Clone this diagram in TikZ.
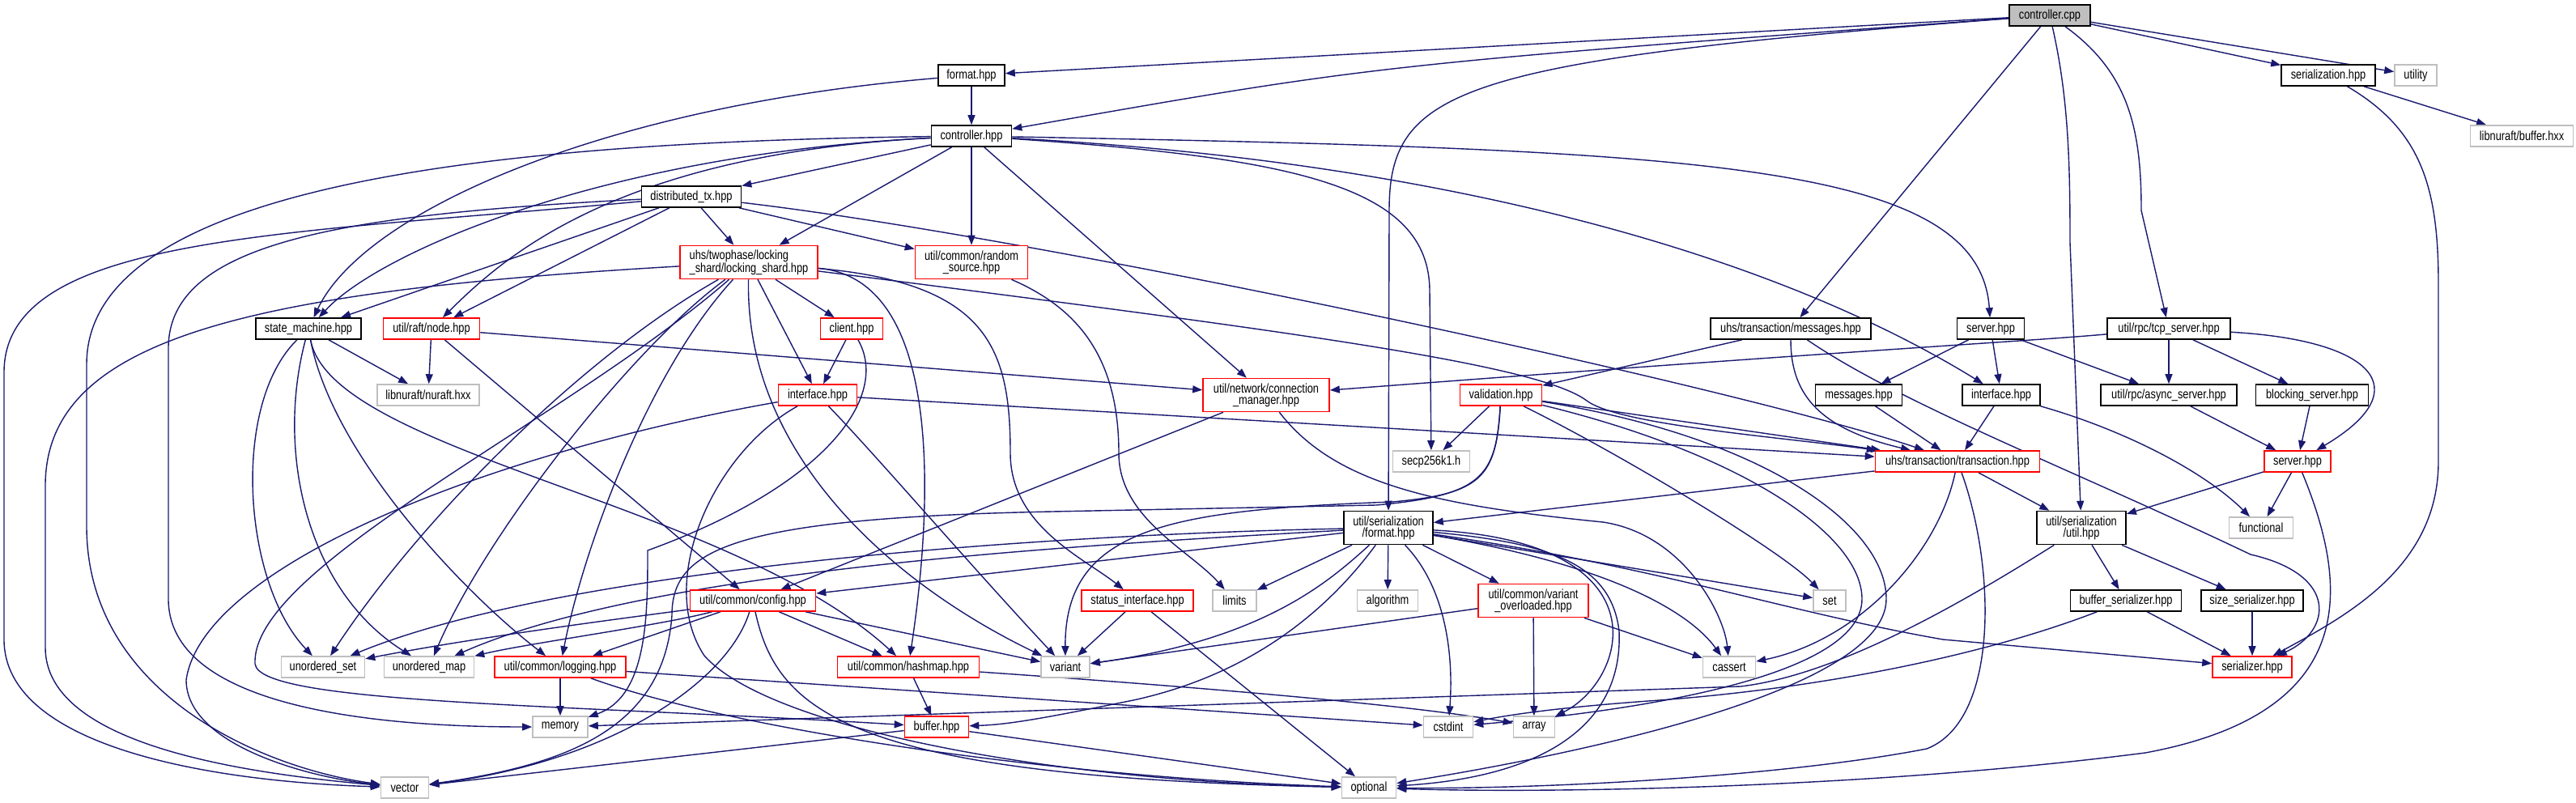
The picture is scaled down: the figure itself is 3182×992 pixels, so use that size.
\documentclass[tikz,border=0pt]{standalone}
\usepackage{fontspec}
\newfontfamily\dxf[FakeStretch=0.8]{Liberation Sans}
\usetikzlibrary{arrows.meta,backgrounds}
\definecolor{mb}{RGB}{25,25,112}
\definecolor{gb}{RGB}{191,191,191}
\definecolor{rb}{RGB}{255,0,0}
\tikzset{
  nd/.style={draw, fill=white, line width=1.6pt, minimum height=26pt, inner sep=0pt,
    font=\dxf\fontsize{16}{14}\selectfont, align=center, text=black},
  nb/.style={nd, draw=black},
  nr/.style={nd, draw=rb},
  ng/.style={nd, draw=gb},
  rootnode/.style={nd, draw=black, fill=gb},
  e/.style={draw=mb, line width=1.4pt, -{Triangle[length=12pt,width=9pt]}}
}
\begin{document}
\begin{tikzpicture}[x=1pt,y=-1pt]
\useasboundingbox (0,0) rectangle (3182,992);
% ---------- nodes ----------
\node[rootnode, minimum width=100] (cpp) at (2532,19) {controller.cpp};
\node[nb, minimum width=82] (fmt) at (1200,93) {format.hpp};
\node[nb, minimum width=116] (ser) at (2876,93) {serialization.hpp};
\node[ng, minimum width=52] (uty) at (2984,93) {utility};
\node[nb, minimum width=99] (chpp) at (1200,168) {controller.hpp};
\node[ng, minimum width=127] (lbuf) at (3115,168) {libnuraft/buffer.hxx};
\node[nb, minimum width=123] (dtx) at (854,243) {distributed\_tx.hpp};
\node[nr, minimum width=170, minimum height=41, align=left] (lsh) at (925,324) {uhs/twophase/locking\\\_shard/locking\_shard.hpp};
\node[nr, minimum width=139, minimum height=41] (rnd) at (1200,324) {util/common/random\\\_source.hpp};
\node[nb, minimum width=130] (sm) at (381,406) {state\_machine.hpp};
\node[nr, minimum width=119] (rnode) at (533,406) {util/raft/node.hpp};
\node[nr, minimum width=77] (cli) at (1052,406) {client.hpp};
\node[nb, minimum width=198] (umsg) at (2212,406) {uhs/transaction/messages.hpp};
\node[nb, minimum width=83] (srvb) at (2459,406) {server.hpp};
\node[nb, minimum width=152] (tcp) at (2679,406) {util/rpc/tcp\_server.hpp};
\node[ng, minimum width=126] (nuraft) at (529,488) {libnuraft/nuraft.hxx};
\node[nr, minimum width=97] (ifl) at (1010,488) {interface.hpp};
\node[nr, minimum width=156, minimum height=41] (conn) at (1564,488) {util/network/connection\\\_manager.hpp};
\node[nr, minimum width=101] (val) at (1854,488) {validation.hpp};
\node[nb, minimum width=107] (msgs) at (2296,488) {messages.hpp};
\node[nb, minimum width=96] (ifr) at (2472,488) {interface.hpp};
\node[nb, minimum width=168] (async) at (2679,488) {util/rpc/async\_server.hpp};
\node[nb, minimum width=139] (block) at (2856,488) {blocking\_server.hpp};
\node[ng, minimum width=95] (secp) at (1768,570) {secp256k1.h};
\node[nr, minimum width=203] (tx) at (2418,570) {uhs/transaction/transaction.hpp};
\node[nr, minimum width=82] (srvr) at (2838,570) {server.hpp};
\node[nb, minimum width=110, minimum height=41] (sfmt) at (1715,652) {util/serialization\\/format.hpp};
\node[nb, minimum width=110, minimum height=41] (sutil) at (2571,652) {util/serialization\\/util.hpp};
\node[ng, minimum width=79] (func) at (2793,652) {functional};
\node[nr, minimum width=155] (cfg) at (930,742) {util/common/config.hpp};
\node[nr, minimum width=138] (stat) at (1405,742) {status\_interface.hpp};
\node[ng, minimum width=54] (lim) at (1525,742) {limits};
\node[ng, minimum width=75] (alg) at (1714,742) {algorithm};
\node[nr, minimum width=136, minimum height=41] (vovl) at (1894,742) {util/common/variant\\\_overloaded.hpp};
\node[ng, minimum width=40] (nset) at (2260,742) {set};
\node[nb, minimum width=137] (bser) at (2626,742) {buffer\_serializer.hpp};
\node[nb, minimum width=126] (sser) at (2782,742) {size\_serializer.hpp};
\node[ng, minimum width=103] (uset) at (399,824) {unordered\_set};
\node[ng, minimum width=111] (umap) at (530,824) {unordered\_map};
\node[nr, minimum width=162] (nlog) at (692,824) {util/common/logging.hpp};
\node[nr, minimum width=175] (hmap) at (1122,824) {util/common/hashmap.hpp};
\node[ng, minimum width=60] (var) at (1316,824) {variant};
\node[ng, minimum width=65] (cas) at (2136,824) {cassert};
\node[nr, minimum width=98] (serz) at (2782,824) {serializer.hpp};
\node[ng, minimum width=68] (mem) at (692,898) {memory};
\node[nr, minimum width=79] (buf) at (1157,898) {buffer.hpp};
\node[ng, minimum width=61] (cstd) at (1789,898) {cstdint};
\node[ng, minimum width=51] (arr) at (1895,898) {array};
\node[ng, minimum width=59] (vec) at (500,973) {vector};
\node[ng, minimum width=67] (opt) at (1691,973) {optional};
% ---------- edges ----------
\begin{scope}[on background layer]
\fill[white] (0,0) rectangle (3182,992);
% controller.cpp
\draw[e] (cpp) -- (fmt);
\draw[e] (cpp) .. controls (1700,80) .. (chpp);
\draw[e] (cpp) .. controls (1800,75) and (1716,110) .. (1716,260) -- (sfmt);
\draw[e] (cpp) -- (umsg);
\draw[e] (cpp) .. controls (2555,120) and (2557,200) .. (2557,300) -- (sutil);
\draw[e] (cpp) .. controls (2630,90) and (2645,160) .. (2645,260) -- (tcp);
\draw[e] (cpp) -- (ser);
\draw[e] (cpp) -- (uty);
% format.hpp
\draw[e] (fmt) -- (chpp);
\draw[e] (fmt) .. controls (750,130) and (450,260) .. (sm);
% controller.hpp
\draw[e] (chpp) -- (dtx);
\draw[e] (chpp) -- (lsh);
\draw[e] (chpp) -- (rnd);
\draw[e] (chpp) -- (conn);
\draw[e] (chpp) .. controls (750,190) and (470,310) .. (sm);
\draw[e] (chpp) .. controls (760,190) and (620,320) .. (rnode);
\draw[e] (chpp) .. controls (650,175) and (107,220) .. (107,450) -- (107,650) .. controls (107,860) and (330,950) .. (vec);
\draw[e] (chpp) .. controls (1600,195) and (1766,230) .. (1766,360) -- (secp);
\draw[e] (chpp) .. controls (2100,185) and (2445,200) .. (srvb);
\draw[e] (chpp) .. controls (1800,200) and (2200,320) .. (ifr);
% distributed_tx
\draw[e] (dtx) -- (lsh);
\draw[e] (dtx) -- (rnd);
\draw[e] (dtx) -- (sm);
\draw[e] (dtx) -- (rnode);
\draw[e] (dtx) .. controls (1300,295) and (2150,480) .. (tx);
\draw[e] (dtx) .. controls (350,290) and (5,290) .. (5,460) -- (5,790) .. controls (5,920) and (250,965) .. (vec);
\draw[e] (dtx) .. controls (420,265) and (208,300) .. (208,430) -- (208,740) .. controls (208,870) and (450,898) .. (mem);
% locking_shard
\draw[e] (lsh) -- (cli);
\draw[e] (lsh) -- (ifl);
\draw[e] (lsh) .. controls (1170,345) and (1150,640) .. (hmap);
\draw[e] (lsh) .. controls (1220,350) and (1248,430) .. (1248,560) .. controls (1248,650) and (1340,690) .. (stat);
\draw[e] (lsh) .. controls (1600,410) and (1900,450) .. (1960,495) .. controls (2000,525) and (2200,540) .. (tx);
\draw[e] (lsh) .. controls (300,360) and (56,420) .. (56,600) -- (56,800) .. controls (56,920) and (300,955) .. (vec);
\draw[e] (lsh) .. controls (920,560) and (1100,720) .. (var);
\draw[e] (lsh) .. controls (720,440) and (520,640) .. (uset);
\draw[e] (lsh) .. controls (780,430) and (600,660) .. (umap);
\draw[e] (lsh) .. controls (800,460) and (720,680) .. (nlog);
\draw[e] (lsh) .. controls (700,520) and (310,700) .. (315,820) .. controls (320,870) and (700,870) .. (buf);
% client
\draw[e] (cli) -- (ifl);
\draw[e] (cli) .. controls (1100,490) and (1020,600) .. (800,680) .. controls (800,760) and (800,860) .. (mem);
% interface (left)
\draw[e] (ifl) -- (tx);
\draw[e] (ifl) .. controls (600,560) and (250,700) .. (230,840) .. controls (230,920) and (380,960) .. (vec);
\draw[e] (ifl) .. controls (1080,560) and (1200,700) .. (var);
\draw[e] (ifl) .. controls (880,560) and (810,720) .. (870,810) .. controls (950,900) and (1300,965) .. (opt);
% raft node
\draw[e] (rnode) -- (nuraft);
\draw[e] (rnode) -- (conn);
\draw[e] (rnode) -- (cfg);
% state machine
\draw[e] (sm) -- (nuraft);
\draw[e] (sm) .. controls (285,500) and (300,720) .. (uset);
\draw[e] (sm) .. controls (340,560) and (380,730) .. (umap);
\draw[e] (sm) .. controls (410,560) and (570,730) .. (nlog);
\draw[e] (sm) .. controls (410,560) and (900,620) .. (hmap);
% config
\draw[e] (cfg) -- (hmap);
\draw[e] (cfg) -- (var);
\draw[e] (cfg) .. controls (800,760) and (600,785) .. (uset);
\draw[e] (cfg) .. controls (820,772) and (650,795) .. (umap);
\draw[e] (cfg) -- (nlog);
\draw[e] (cfg) .. controls (900,840) and (760,940) .. (vec);
\draw[e] (cfg) .. controls (960,880) and (1050,960) .. (opt);
% logging
\draw[e] (nlog) -- (mem);
\draw[e] (nlog) -- (cstd);
\draw[e] (nlog) .. controls (900,900) and (1300,960) .. (opt);
% hashmap
\draw[e] (hmap) -- (buf);
\draw[e] (hmap) .. controls (1500,850) and (1750,872) .. (arr);
% buffer
\draw[e] (buf) -- (vec);
\draw[e] (buf) -- (opt);
% status interface
\draw[e] (stat) -- (var);
\draw[e] (stat) -- (opt);
% random source
\draw[e] (rnd) .. controls (1330,380) and (1382,440) .. (1382,560) .. controls (1382,640) and (1470,680) .. (lim);
% connection manager
\draw[e] (conn) -- (cfg);
\draw[e] (conn) .. controls (1650,600) and (1780,625) .. (1980,645) .. controls (2080,660) and (2130,760) .. (cas);
% validation
\draw[e] (val) -- (secp);
\draw[e] (val) -- (tx);
\draw[e] (val) .. controls (2000,560) and (2200,680) .. (nset);
\draw[e] (val) .. controls (2150,560) and (2300,660) .. (2300,740) .. controls (2300,840) and (2000,880) .. (cstd);
\draw[e] (val) .. controls (2180,540) and (2330,650) .. (2330,740) .. controls (2330,860) and (1900,940) .. (opt);
\draw[e] (val) .. controls (1848,590) and (1830,610) .. (1720,620) .. controls (1450,630) and (1315,650) .. (var);
\draw[e] (val) .. controls (1848,590) and (1830,612) .. (1700,624) -- (1300,632) .. controls (900,640) and (830,680) .. (830,760) .. controls (820,900) and (700,945) .. (vec);
% uhs/transaction/messages
\draw[e] (umsg) -- (val);
\draw[e] (umsg) .. controls (2212,490) and (2250,530) .. (tx);
\draw[e] (umsg) .. controls (2350,500) and (2560,580) .. (2780,685) .. controls (2890,710) and (2880,780) .. (serz);
% server (black)
\draw[e] (srvb) -- (msgs);
\draw[e] (srvb) -- (ifr);
\draw[e] (srvb) -- (async);
% interface (right)
\draw[e] (ifr) -- (tx);
\draw[e] (ifr) .. controls (2620,530) and (2720,580) .. (func);
% messages
\draw[e] (msgs) -- (tx);
% tcp server
\draw[e] (tcp) -- (async);
\draw[e] (tcp) -- (block);
\draw[e] (tcp) .. controls (2500,422) and (2300,432) .. (conn);
\draw[e] (tcp) .. controls (2930,420) and (2990,480) .. (srvr);
% async / blocking server
\draw[e] (async) -- (srvr);
\draw[e] (block) -- (srvr);
% serialization.hpp
\draw[e] (ser) -- (lbuf);
\draw[e] (ser) .. controls (2990,160) and (3012,230) .. (3012,350) -- (3012,570) .. controls (3012,700) and (2900,760) .. (serz);
% transaction
\draw[e] (tx) -- (sfmt);
\draw[e] (tx) -- (sutil);
\draw[e] (tx) .. controls (2395,680) and (2300,790) .. (cas);
\draw[e] (tx) .. controls (2465,700) and (2470,890) .. (2380,925) .. controls (2200,960) and (1900,975) .. (opt);
% server (red)
\draw[e] (srvr) -- (sutil);
\draw[e] (srvr) -- (func);
\draw[e] (srvr) .. controls (2900,720) and (2920,880) .. (2650,930) .. controls (2300,975) and (1900,980) .. (opt);
% serialization util
\draw[e] (sutil) -- (bser);
\draw[e] (sutil) -- (sser);
\draw[e] (sutil) .. controls (2400,760) and (2260,835) .. (2150,848) -- (mem);
% buffer / size serializer
\draw[e] (bser) -- (serz);
\draw[e] (bser) .. controls (2450,810) and (2250,850) .. (2050,865) .. controls (1950,872) and (1880,880) .. (cstd);
\draw[e] (sser) -- (serz);
% serialization format
\draw[e] (sfmt) -- (lim);
\draw[e] (sfmt) -- (alg);
\draw[e] (sfmt) -- (vovl);
\draw[e] (sfmt) .. controls (1790,730) and (1795,820) .. (cstd);
\draw[e] (sfmt) .. controls (2060,670) and (2010,840) .. (arr);
\draw[e] (sfmt) .. controls (2000,700) and (2090,760) .. (cas);
\draw[e] (sfmt) -- (nset);
\draw[e] (sfmt) .. controls (1900,670) and (1990,690) .. (2000,780) .. controls (2005,900) and (1900,960) .. (opt);
\draw[e] (sfmt) -- (cfg);
\draw[e] (sfmt) .. controls (1300,660) and (700,700) .. (uset);
\draw[e] (sfmt) .. controls (1300,675) and (800,705) .. (umap);
\draw[e] (sfmt) .. controls (1640,720) and (1560,790) .. (var);
\draw[e] (sfmt) .. controls (1650,740) and (1560,830) .. (1400,865) .. controls (1300,885) and (1250,895) .. (buf);
\draw[e] (sfmt) .. controls (2050,700) and (2200,755) .. (2400,790) -- (serz);
% variant_overloaded
\draw[e] (vovl) -- (var);
\draw[e] (vovl) -- (arr);
\draw[e] (vovl) -- (cas);
\end{scope}
\end{tikzpicture}
\end{document}
